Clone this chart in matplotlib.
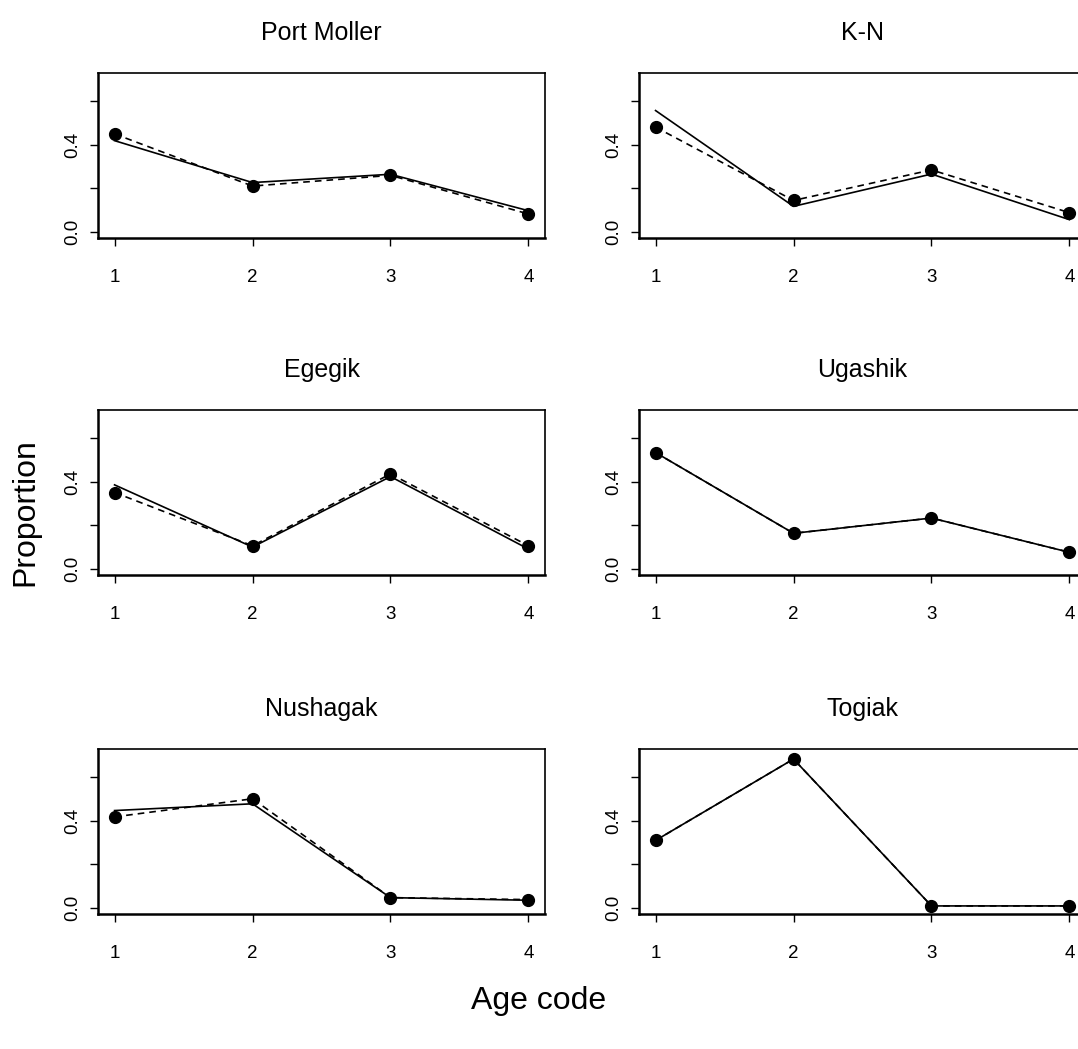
import matplotlib
matplotlib.use("Agg")
import matplotlib.pyplot as plt

plt.rcParams['font.family'] = ['Liberation Sans', 'DejaVu Sans']

ages = [1, 2, 3, 4]
regions = ["Port Moller", "K-N", "Egegik", "Ugashik", "Nushagak", "Togiak"]

# observed proportions (points, dashed)
observed = [
    [0.449, 0.210, 0.259, 0.082],
    [0.480, 0.144, 0.284, 0.088],
    [0.350, 0.106, 0.435, 0.106],
    [0.533, 0.163, 0.233, 0.076],
    [0.417, 0.500, 0.047, 0.038],
    [0.309, 0.682, 0.009, 0.009],
]
# fitted proportions (solid)
fitted = [
    [0.418, 0.226, 0.264, 0.097],
    [0.556, 0.117, 0.265, 0.056],
    [0.385, 0.100, 0.423, 0.091],
    [0.533, 0.163, 0.233, 0.076],
    [0.446, 0.477, 0.047, 0.035],
    [0.309, 0.682, 0.009, 0.009],
]

fig = plt.figure(figsize=(10.78, 10.49), dpi=100)

lefts = [98 / 1078, 639 / 1078]
bottoms = [1 - 238 / 1049, 1 - 575 / 1049, 1 - 914 / 1049]
w = 447 / 1078
h = 165 / 1049

for i, name in enumerate(regions):
    ax = fig.add_axes([lefts[i % 2], bottoms[i // 2], w, h])
    ax.plot(ages, fitted[i], color='black', lw=1.2, ls='-')
    ax.plot(ages, observed[i], color='black', lw=1.2, ls=(0, (4, 3)),
            marker='o', markersize=8.5)
    ax.set_xlim(0.88, 4.12)
    ax.set_ylim(-0.028, 0.728)
    ax.set_xticks(ages)
    ax.set_xticklabels(['1', '2', '3', '4'])
    ax.set_yticks([0.0, 0.2, 0.4, 0.6])
    ax.set_yticklabels(['0.0', '', '0.4', ''], rotation=90, va='center')
    ax.tick_params(direction='out', length=6, width=1, labelsize=13.5, pad=16)
    ax.tick_params(axis='y', pad=6)
    for s in ax.spines.values():
        s.set_linewidth(1.2)
    ax.spines['bottom'].set_linewidth(1.8)
    ax.spines['left'].set_linewidth(1.8)
    ax.set_title(name, fontsize=18, pad=24)

fig.text(539 / 1078, 1 - 1001 / 1049, 'Age code', ha='center', va='center', fontsize=23)
fig.text(25 / 1078, 1 - 512 / 1049, 'Proportion', ha='center', va='center',
         rotation=90, fontsize=23)

fig.savefig('out.png', dpi=100)
